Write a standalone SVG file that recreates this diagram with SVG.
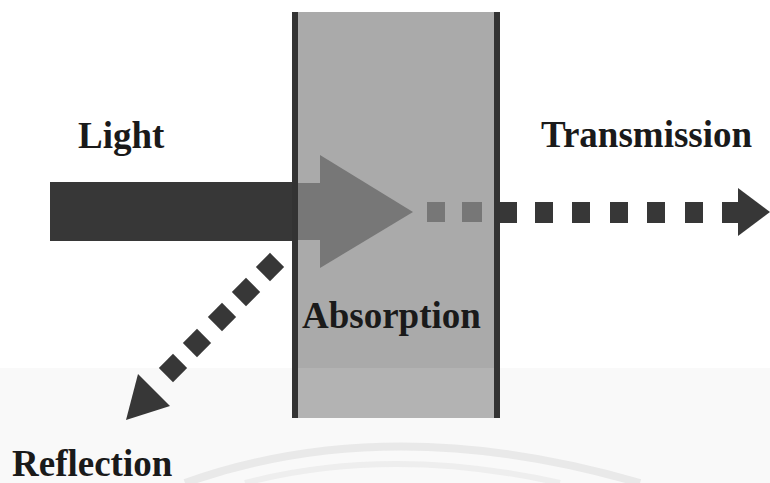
<svg xmlns="http://www.w3.org/2000/svg" width="770" height="483" viewBox="0 0 770 483">
<style>
.lbl{font-family:"Liberation Serif","Times New Roman",serif;font-weight:bold;font-size:37px;fill:#1a1a1a}
.dark{fill:#373737}
.mid{fill:#777777}
.edge{stroke:#333333;stroke-width:6;fill:none}
</style>
<rect width="770" height="483" fill="#ffffff"/>
<rect x="0" y="368" width="770" height="115" fill="#f9f9f9"/>
<path d="M185,483 Q390,410 640,483" fill="none" stroke="#e9e9e9" stroke-width="8"/>
<path d="M245,483 Q390,445 560,483" fill="none" stroke="#eeeeee" stroke-width="6"/>
<g id="slab">
<rect x="295" y="12" width="202" height="356" fill="#aaaaaa"/>
<rect x="295" y="368" width="202" height="50" fill="#b3b3b3"/>
</g>
<g id="connectors">
<g id="light-beam">
<rect class="dark" x="50" y="182" width="248" height="59"/>
</g>
<g id="absorption-arrow">
<rect class="mid" x="297" y="183" width="26" height="57"/>
<polygon class="mid" points="320,155 413,212 320,268"/>
<rect class="mid" x="427" y="202" width="18" height="20"/>
<rect class="mid" x="462" y="202" width="20" height="20"/>
</g>
<g id="transmission-arrow">
<rect class="dark" x="498" y="202" width="19" height="21"/>
<rect class="dark" x="535" y="202" width="18" height="21"/>
<rect class="dark" x="572" y="202" width="18" height="21"/>
<rect class="dark" x="610" y="202" width="18" height="21"/>
<rect class="dark" x="647" y="202" width="18" height="21"/>
<rect class="dark" x="685" y="202" width="18" height="21"/>
<rect class="dark" x="722" y="202" width="17" height="21"/>
<polygon class="dark" points="738,188 770,212 738,236"/>
</g>
<g id="reflection-arrow">
<rect class="dark" x="-10" y="-10" width="20" height="20" transform="translate(270,267) rotate(45)"/>
<rect class="dark" x="-10" y="-10" width="20" height="20" transform="translate(246,292) rotate(45)"/>
<rect class="dark" x="-10" y="-10" width="20" height="20" transform="translate(222,317) rotate(45)"/>
<rect class="dark" x="-10" y="-10" width="20" height="20" transform="translate(197,343) rotate(45)"/>
<rect class="dark" x="-10" y="-10" width="20" height="20" transform="translate(173,368) rotate(45)"/>
<polygon class="dark" points="126,420 138,374 170,406"/>
</g>
</g>
<g id="slab-edges">
<line class="edge" x1="295" y1="12" x2="295" y2="418"/>
<line class="edge" x1="497" y1="12" x2="497" y2="418"/>
</g>
<g id="label-light"><text class="lbl" x="78" y="148">Light</text></g>
<g id="label-transmission"><text class="lbl" x="541" y="147">Transmission</text></g>
<g id="label-absorption"><text class="lbl" x="302" y="328">Absorption</text></g>
<g id="label-reflection"><text class="lbl" x="12" y="476">Reflection</text></g>
</svg>
